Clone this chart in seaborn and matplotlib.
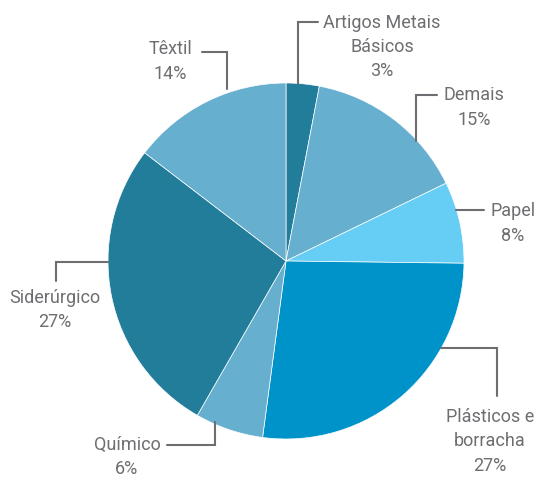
import matplotlib
matplotlib.use("Agg")
import matplotlib.pyplot as plt
import seaborn as sns

# ---- data ----
categories = ["Artigos Metais\nBásicos", "Demais", "Papel", "Plásticos e\nborracha",
              "Químico", "Siderúrgico", "Têxtil"]
shares = [3.0, 14.8, 7.4, 26.9, 6.2, 27.1, 14.6]
pct_labels = ["3%", "15%", "8%", "27%", "6%", "27%", "14%"]

# ---- style ----
colors = ["#217d99", "#67afcf", "#66cdf4", "#0093c9", "#67afcf", "#217d99", "#67afcf"]
text_color = "#6d6e71"
line_color = "#6d6e71"

sns.set_style("white")
plt.rcParams["font.family"] = ["Roboto", "DejaVu Sans"]

fig = plt.figure(figsize=(5.37, 4.78), dpi=100)
ax = fig.add_axes([0, 0, 1, 1])

ax.pie(shares, colors=colors, startangle=-90, counterclock=True,
       center=(286, 261), radius=178, frame=True,
       wedgeprops=dict(linewidth=0.5, edgecolor="white"))
ax.set_xlim(0, 537)
ax.set_ylim(478, 0)
ax.set_aspect("equal")
ax.axis("off")

# label layout: text center, leader-line path (pixel layout)
layout = [
    ((382, 47), [(298, 84), (298, 22), (318, 22)]),
    ((474, 107.5), [(416, 141), (416, 95), (437, 95)]),
    ((513, 223.5), [(456, 210), (484, 210)]),
    ((490, 441.5), [(441, 348), (497, 348), (497, 396)]),
    ((127, 457), [(167, 445), (215, 445), (215, 422)]),
    ((55, 310), [(108, 262), (56, 262), (56, 281)]),
    ((170, 61.5), [(202, 52), (227, 52), (227, 89)]),
]
for cat, pct, ((tx, ty), path) in zip(categories, pct_labels, layout):
    ax.text(tx, ty, f"{cat}\n{pct}", ha="center", va="center", color=text_color,
            fontsize=13, linespacing=1.45)
    xs, ys = zip(*path)
    ax.plot(xs, ys, color=line_color, linewidth=1.5, solid_joinstyle="miter")

fig.savefig("out.png", dpi=100)
